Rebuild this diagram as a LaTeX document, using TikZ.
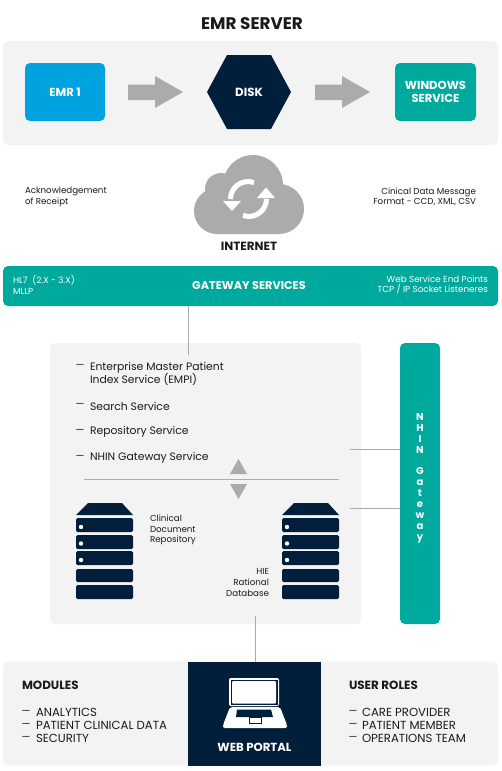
\documentclass[tikz,border=0pt]{standalone}
\usepackage{fontspec}
\setmainfont{Poppins}
\definecolor{tealc}{HTML}{00A99D}
\definecolor{bluec}{HTML}{00A3E0}
\definecolor{navyc}{HTML}{011E3B}
\definecolor{panelc}{HTML}{F3F3F3}
\definecolor{greyc}{HTML}{ABABAB}
\definecolor{inkc}{HTML}{1A1A1A}
\tikzset{
  panel/.style={fill=panelc,rounded corners=5pt,inner sep=0pt,outer sep=0pt},
  box/.style={rounded corners=5pt,inner sep=0pt,outer sep=0pt,text=white,align=center,font=\fontsize{11.6}{13}\selectfont\bfseries},
  txt/.style={inner sep=0pt,outer sep=0pt,text=inkc,font=\fontsize{8.7}{10.6}\selectfont},
  wsmall/.style={txt,text=white,font=\fontsize{8.8}{10.6}\selectfont},
  listitem/.style={txt,anchor=west,align=left,font=\fontsize{10.8}{13}\selectfont},
  capsitem/.style={txt,anchor=west,font=\fontsize{11.7}{13}\selectfont},
  dashmark/.style={txt,font=\fontsize{10}{11}\selectfont},
  head/.style={txt,font=\fontsize{11.9}{13}\selectfont\bfseries},
  link/.style={draw=greyc,line width=0.8pt},
  blockarrow/.style={fill=greyc},
  srv/.style={fill=navyc,rounded corners=1.5pt},
}
\newcommand{\serverstack}[1]{%
  \begin{scope}[shift={(#1,0)}]
    \fill[navyc] (12,503) -- (46,503) -- (57,515) -- (0,515) -- cycle;
    \fill[srv] (0,518) rectangle (57,532);
    \fill[srv] (0,535) rectangle (57,549);
    \fill[srv] (0,551) rectangle (57,565);
    \fill[srv] (0,569) rectangle (57,582);
    \fill[srv] (0,585) rectangle (57,599);
    \fill[white] (5,527) circle (2.2pt);
    \fill[white] (5,543.5) circle (2.2pt);
    \fill[white] (5,560) circle (2.2pt);
  \end{scope}}
\begin{document}
\begin{tikzpicture}[x=1pt,y=-1pt]
\useasboundingbox (0,0) rectangle (502,771);
\node[txt,font=\fontsize{16.8}{18}\selectfont\bfseries] (title) at (252,24) {EMR SERVER};
% top panel
\node[panel,minimum width=495pt,minimum height=104pt] (top) at (250.5,93) {};
\node[box,fill=bluec,minimum width=80pt,minimum height=58pt] (emr) at (65,92) {EMR 1};
\node[box,fill=tealc,minimum width=81pt,minimum height=58pt] (win) at (435.5,92) {WINDOWS\\SERVICE};
\fill[navyc] (227,55) -- (271,55) -- (291,92) -- (271,129) -- (227,129) -- (207,92) -- cycle;
\node[txt,text=white,font=\fontsize{11.8}{13}\selectfont\bfseries] (disk) at (249,92) {DISK};
\fill[blockarrow] (128,84.5) -- (155,84.5) -- (155,76) -- (183,92) -- (155,108) -- (155,100) -- (128,100) -- cycle;
\fill[blockarrow] (315,84.5) -- (342,84.5) -- (342,76) -- (370,92) -- (342,108) -- (342,100) -- (315,100) -- cycle;
% internet
\node[txt,anchor=west,align=left] (ack) at (25,197) {Acknowledgement\\of Receipt};
\node[txt,anchor=east,align=right] (cda) at (476,197) {Cinical Data Message\\Format - CCD, XML, CSV};
\fill[greyc] (253,185) circle (30pt) (221,189) circle (16pt) (217,211) circle (23pt) (279,209) circle (25pt) (217,205) rectangle (279,234);
\draw[white,line width=5pt] (254.0,182.6) arc[start angle=70,end angle=180,radius=17.5pt];
\fill[white] (223,201) -- (241,201) -- (232,211) -- cycle;
\draw[white,line width=5pt] (243.0,215.4) arc[start angle=250,end angle=360,radius=17.5pt];
\fill[white] (257,198) -- (275,198) -- (266,187.5) -- cycle;
\node[head] (internet) at (249,246.5) {INTERNET};
% gateway
\node[box,fill=tealc,minimum width=495pt,minimum height=40pt] (gw) at (250.5,286) {};
\node[txt,text=white,font=\fontsize{11.3}{13}\selectfont\bfseries] (gwt) at (249,285.5) {GATEWAY SERVICES};
\node[wsmall,anchor=west,align=left] (hl) at (13,285) {HL7\ \ (2.X - 3.X)\\MLLP};
\node[wsmall,anchor=east,align=right] (ws) at (488,285) {Web Service End Points\\TCP / IP Socket Listeneres};
% main panel
\node[panel,minimum width=311pt,minimum height=281pt] (main) at (205.5,483.5) {};
\node[box,fill=tealc,minimum width=40pt,minimum height=281pt] (nhin) at (420,483.5) {};
\node[txt,text=white,align=center,font=\fontsize{10}{11}\selectfont\bfseries] (nhint) at (420,478.5) {N\\H\\I\\N\\[10pt]G\\a\\t\\e\\w\\a\\y};
\coordinate (gwdrop) at (188,355);
\draw[link] (gw.south -| gwdrop) -- (gwdrop);
\coordinate (n1) at (350,449);
\coordinate (n2) at (350,508);
\draw[link] (n1) -- (n1 -| nhin.west);
\draw[link] (n2) -- (n2 -| nhin.west);
\foreach \n/\y in {a/366,b/405.5,c/431.5,d/457.5}{\node[dashmark] (dash\n) at (80,\y) {—};}
\node[listitem] (l1) at (90,373.5) {Enterprise Master Patient\\Index Service (EMPI)};
\node[listitem] (l2) at (90,406) {Search Service};
\node[listitem] (l3) at (90,432) {Repository Service};
\node[listitem] (l4) at (90,458) {NHIN Gateway Service};
\coordinate (hl) at (84,479);
\coordinate (hr) at (339,479);
\draw[link] (hl) -- (hr);
\fill[greyc] (238.5,459) -- (247,474) -- (230,474) -- cycle;
\fill[greyc] (230,484) -- (247,484) -- (238.5,499) -- cycle;
\serverstack{76}
\serverstack{282}
\node[txt,anchor=west,align=left] (cdr) at (150,530) {Clinical\\Document\\Repository};
\node[txt,anchor=east,align=right] (hie) at (269,582.5) {HIE\\Rational\\Database};
% bottom
\node[panel,minimum width=495pt,minimum height=104pt] (bot) at (250.5,713.5) {};
\node[fill=navyc,inner sep=0pt,outer sep=0pt,minimum width=133pt,minimum height=104pt] (portal) at (254.5,713.5) {};
\coordinate (pdrop) at (255,616);
\draw[link] (pdrop) -- (pdrop |- portal.north);
\fill[white,rounded corners=2pt] (229,678) rectangle (279,706);
\fill[navyc] (230.5,679.5) rectangle (277.5,704.5);
\fill[white,rounded corners=1pt] (232,681) rectangle (276,703.5);
\fill[white,rounded corners=2pt] (230,707) -- (280,707) -- (287,725) -- (287,728) -- (223,728) -- (223,725) -- cycle;
\fill[navyc] (237,709.5) -- (271,709.5) -- (273,717) -- (236,717) -- cycle;
\draw[navyc,line width=0.5pt] (249,717) rectangle (261,723);
\node[txt,text=white,font=\fontsize{11.7}{13}\selectfont\bfseries] (pt) at (254.5,747) {WEB PORTAL};
\node[head,anchor=west] (mod) at (22,685.5) {MODULES};
\node[head,anchor=west] (usr) at (349,685.5) {USER ROLES};
\foreach \n/\x/\y in {e/26/712,f/26/725,g/26/738.5,h/353/712,i/353/725,j/353/738.5}{\node[dashmark] (dash\n) at (\x,\y) {—};}
\node[capsitem] (m1) at (36,712) {ANALYTICS};
\node[capsitem] (m2) at (36,725) {PATIENT CLINICAL DATA};
\node[capsitem] (m3) at (36,738.5) {SECURITY};
\node[capsitem] (u1) at (362,712) {CARE PROVIDER};
\node[capsitem] (u2) at (362,725) {PATIENT MEMBER};
\node[capsitem] (u3) at (362,738.5) {OPERATIONS TEAM};
\end{tikzpicture}
\end{document}
